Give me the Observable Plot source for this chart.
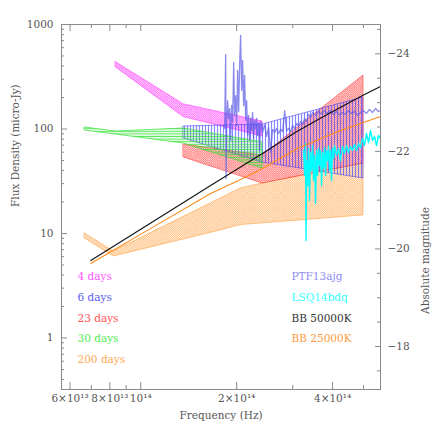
<!DOCTYPE html>
<html><head><meta charset="utf-8">
<script src="https://cdn.jsdelivr.net/npm/d3@7"></script>
<script src="https://cdn.jsdelivr.net/npm/@observablehq/plot@0.6"></script>
<style>html,body{margin:0;padding:0;background:#fff;}</style>
</head><body><div id="chart"></div>
<script>
// ---------- data (frequencies in units of 1e14 Hz, flux in micro-Jy) ----------
const days4Freq = [0.835, 1.364, 2.41];
const days4Hi   = [436, 172, 118];
const days4Lo   = [390, 130, 85];

const days6Freq = [1.364, 2.41, 5.0];
const days6Hi   = [105.7, 110.4, 200];
const days6Lo   = [81.1, 47.8, 33.6];

const days23Freq = [1.364, 2.41, 5.0];
const days23Hi   = [71.1, 55.8, 325];
const days23Lo   = [53.4, 30.1, 46.8];

const days30Freq = [0.668, 0.835, 1.364, 2.41];
const days30Hi   = [103.4, 94.6, 101.1, 74.3];
const days30Lo   = [96.7, 88.6, 72.6, 41.9];

const days200Freq = [0.668, 0.823, 1.781, 2.058, 2.41, 5.0];
const days200Hi   = [10.0, 6.73, 21.6, 27.0, 30.1, 46.8];
const days200Lo   = [8.96, 6.03, 10.7, 12.05, 12.5, 14.9];

const bb50Freq = [0.697, 1.075, 1.657, 2.41, 3.062, 3.747, 4.966, 5.655];
const bb50Flux = [5.51, 12.6, 28.8, 58.3, 93.2, 131.8, 209, 255];

const bb25Freq = [0.697, 1.075, 1.657, 2.058, 2.41, 3.129, 4.236, 5.655];
const bb25Flux = [5.16, 11.2, 24.1, 32.8, 41.9, 65.8, 96.7, 131.8];

const ptfFreq = [1.834,1.847,1.853,1.860,1.873,1.887,1.900,1.915,1.928,1.943,1.957,1.971,1.985,2.000,2.014,2.029,2.043,2.058,2.073,2.088,2.103,2.118,2.134,2.149,2.165,2.180,2.196,2.212,2.228,2.244,2.260,2.277,2.293,2.310,2.327,2.343,2.360,2.377,2.412,2.447,2.483,2.519,2.556,2.593,2.631,2.670,2.708,2.748,2.788,2.829,2.870,2.911,2.953,2.997,3.040,3.084,3.129,3.174,3.221,3.268,3.314,3.362,3.411,3.461,3.537,3.614,3.694,3.775,3.857,3.941,4.028,4.116,4.206,4.298,4.392,4.487,4.586,4.686,4.788,4.894,5.002,5.110,5.222,5.337,5.455,5.574,5.655];
const ptfFlux = [101,516,33.6,105.7,187,126,157,77.6,168,115.4,433,134.7,209,108,363,147,405,785,234,452,168,325,121,187,87,135,78,126,97,144,81,121,101,126,87,115,62,118,93,110,85,103,60,99,92.6,101,90.5,99,94.6,150,96.7,101,94.6,108,101,113,106,118,110,126,118,138,129,144,135,147,138,150,141,150,138,147,135,144,138,150,141,147,135,144,150,141,154,144,157,147,150];

const lsqFreq = [3.243,3.268,3.290,3.302,3.314,3.338,3.362,3.386,3.411,3.436,3.461,3.486,3.511,3.537,3.562,3.588,3.614,3.640,3.667,3.694,3.720,3.747,3.775,3.801,3.829,3.857,3.885,3.913,3.941,3.970,3.999,4.028,4.057,4.116,4.175,4.236,4.298,4.360,4.423,4.487,4.553,4.619,4.686,4.754,4.824,4.894,4.966,5.038,5.110,5.186,5.260,5.337,5.415,5.494,5.574,5.655];
const lsqFlux = [62.3,35.9,72.6,8.57,49.9,28.8,65.1,20.7,59.6,40.1,69.5,32.1,55.8,19.4,62.3,35.9,65.1,44.7,62.3,28.8,59.6,41.9,66.5,35.9,62.3,49.9,68.0,40.1,62.3,32.1,65.1,52.2,69.5,55.8,65.1,49.9,68.0,58.3,69.5,59.6,68.0,62.3,71.1,62.3,72.6,66.5,81.1,69.5,90.5,74.3,96.7,77.6,84.8,69.5,86.7,81.1];

// axis ticks
const xMajor = [6e13, 8e13, 1e14, 2e14, 4e14];
const xMajorLabels = ["6×10¹³", "8×10¹³", "10¹⁴", "2×10¹⁴", "4×10¹⁴"];
const xMinor = [7e13, 9e13, 3e14, 5e14];
const yMajor = [1, 10, 100, 1000];
const yMajorLabels = ["1", "10", "100", "1000"];
const yMinor = [0.4,0.5,0.6,0.7,0.8,0.9, 2,3,4,5,6,7,8,9, 20,30,40,50,60,70,80,90, 200,300,400,500,600,700,800,900];
const magMajor = [-24, -22, -20, -18];
const magMajorLabels = ["−24", "−22", "−20", "−18"];
const magMinor = [-24.5, -23.5, -23, -22.5, -21.5, -21, -20.5, -19.5, -19, -18.5, -17.5];
// magnitude axis calibration: magnitude -> flux at same height
const magRef = [-24, -18];
const magRefFlux = [524, 0.829];

// legend
const legendLeft = ["4 days", "6 days", "23 days", "30 days", "200 days"];
const legendLeftColors = ["#ff55ff", "#5a5aee", "#ff5555", "#55ee55", "#ffaa55"];
const legendRight = ["PTF13ajg", "LSQ14bdq", "BB 50000K", "BB 25000K"];
const legendRightColors = ["#8c8cf0", "#33ffff", "#333333", "#ff9a40"];

// ---------- build ----------
const U = 1e14;
function band(f, hi, lo) { return f.map((v, i) => ({f: v * U, hi: hi[i], lo: lo[i]})); }
function series(f, y) { if (f.length !== y.length) throw new Error("length mismatch"); return f.map((v, i) => ({f: v * U, y: y[i]})); }
const magToFlux = m => {
  const l0 = Math.log10(magRefFlux[0]), l1 = Math.log10(magRefFlux[1]);
  return Math.pow(10, l0 + (m - magRef[0]) * (l1 - l0) / (magRef[1] - magRef[0]));
};

const W = 436, H = 436, mL = 61, mR = 56, mT = 24, mB = 47;
const fw = W - mL - mR, fh = H - mT - mB;
const axisColor = "#8a8a8a", textColor = "#555";
const font = "DejaVu Serif";

const colors = {m: "#ff33ff", b: "#3c3cff", r: "#ff3a3a", g: "#2fe02f", o: "#ffa040"};

const marks = [
  Plot.areaY(band(days200Freq, days200Hi, days200Lo), {x: "f", y1: "lo", y2: "hi", fill: "url(#hatchO)", stroke: colors.o, strokeWidth: 0.6}),
  Plot.areaY(band(days23Freq, days23Hi, days23Lo), {x: "f", y1: "lo", y2: "hi", fill: "url(#hatchR)", stroke: colors.r, strokeWidth: 0.6}),
  Plot.areaY(band(days4Freq, days4Hi, days4Lo), {x: "f", y1: "lo", y2: "hi", fill: "url(#hatchM)", stroke: colors.m, strokeWidth: 0.6}),
  Plot.areaY(band(days6Freq, days6Hi, days6Lo), {x: "f", y1: "lo", y2: "hi", fill: "url(#hatchB)", stroke: colors.b, strokeWidth: 0.7, strokeOpacity: 0.8}),
  Plot.areaY(band(days30Freq, days30Hi, days30Lo), {x: "f", y1: "lo", y2: "hi", fill: "url(#hatchG)", stroke: colors.g, strokeWidth: 0.7}),
  Plot.line(series(ptfFreq, ptfFlux), {x: "f", y: "y", stroke: "#5a5ae6", strokeOpacity: 0.7, strokeWidth: 1.3, clip: true}),
  Plot.line(series(lsqFreq, lsqFlux), {x: "f", y: "y", stroke: "#00ffff", strokeWidth: 1.4, clip: true}),
  Plot.line(series(bb25Freq, bb25Flux), {x: "f", y: "y", stroke: "#ff8a1a", strokeWidth: 1.1}),
  Plot.line(series(bb50Freq, bb50Flux), {x: "f", y: "y", stroke: "#111", strokeWidth: 1.1}),
  Plot.frame({stroke: axisColor, strokeWidth: 1}),
  // x ticks bottom and top (inward)
  Plot.ruleX(xMajor, {x: d => d, insetTop: fh - 7, stroke: axisColor}),
  Plot.ruleX(xMajor, {x: d => d, insetBottom: fh - 7, stroke: axisColor}),
  Plot.ruleX(xMinor, {x: d => d, insetTop: fh - 4, stroke: axisColor}),
  Plot.ruleX(xMinor, {x: d => d, insetBottom: fh - 4, stroke: axisColor}),
  // y ticks left
  Plot.ruleY(yMajor, {y: d => d, insetRight: fw - 6, stroke: axisColor}),
  Plot.ruleY(yMinor, {y: d => d, insetRight: fw - 3, stroke: axisColor}),
  // magnitude ticks right
  Plot.ruleY(magMajor, {y: m => magToFlux(m), insetLeft: fw - 5, stroke: axisColor}),
  Plot.ruleY(magMinor, {y: m => magToFlux(m), insetLeft: fw - 3, stroke: axisColor}),
  // tick labels
  Plot.text(xMajor, {x: d => d, text: (d, i) => xMajorLabels[i], frameAnchor: "bottom", dy: 12, fill: textColor, fontSize: 10.5}),
  Plot.text(yMajor, {y: d => d, text: (d, i) => yMajorLabels[i], frameAnchor: "left", dx: -8, textAnchor: "end", fill: textColor, fontSize: 10.5}),
  Plot.text(magMajor, {y: m => magToFlux(m), text: (d, i) => magMajorLabels[i], frameAnchor: "right", dx: 7, textAnchor: "start", fill: textColor, fontSize: 10.5}),
  // axis titles
  Plot.text(["Frequency (Hz)"], {frameAnchor: "bottom", dy: 29, fill: textColor, fontSize: 10.5}),
  Plot.text(["Flux Density (micro-Jy)"], {frameAnchor: "left", dx: -46, rotate: -90, fill: textColor, fontSize: 10.5}),
  Plot.text(["Absolute magnitude"], {frameAnchor: "right", dx: 45, rotate: -90, fill: textColor, fontSize: 10.5}),
  // legend
  ...legendLeft.map((t, i) => Plot.text([t], {frameAnchor: "top-left", dx: 16, dy: 248 + 20.8 * i, textAnchor: "start", fill: legendLeftColors[i], fontSize: 10.5})),
  ...legendRight.map((t, i) => Plot.text([t], {frameAnchor: "top-left", dx: 230, dy: 248 + 20.8 * i, textAnchor: "start", fill: legendRightColors[i], fontSize: 10.5}))
];

const chart = Plot.plot({
  width: W, height: H,
  marginLeft: mL, marginRight: mR, marginTop: mT, marginBottom: mB,
  x: {type: "log", domain: [5.64e13, 5.655e14], axis: null},
  y: {type: "log", domain: [0.3215, 1000], axis: null},
  style: {fontFamily: font, fontSize: "10.5px", color: textColor, background: "#fff"},
  marks
});

const svg = chart.tagName.toLowerCase() === "svg" ? chart : chart.querySelector("svg");
const defs = d3.select(svg).insert("defs", ":first-child");
function cross(id, color, size, sw, bg) {
  const p = defs.append("pattern").attr("id", id).attr("patternUnits", "userSpaceOnUse").attr("width", size).attr("height", size);
  p.append("rect").attr("width", size).attr("height", size).attr("fill", color).attr("fill-opacity", bg);
  p.append("path").attr("d", `M0,0L${size},${size}M${size},0L0,${size}`).attr("stroke", color).attr("stroke-width", sw).attr("stroke-opacity", 0.8).attr("fill", "none");
}
function stripes(id, color, size, sw, vertical, opacity, bg) {
  const p = defs.append("pattern").attr("id", id).attr("patternUnits", "userSpaceOnUse").attr("width", size).attr("height", size);
  p.append("rect").attr("width", size).attr("height", size).attr("fill", color).attr("fill-opacity", bg);
  p.append("path").attr("d", vertical ? `M${size/2},0V${size}` : `M0,${size/2}H${size}`)
    .attr("stroke", color).attr("stroke-width", sw).attr("stroke-opacity", opacity).attr("fill", "none");
}
cross("hatchM", colors.m, 2.2, 0.45, 0.22);
cross("hatchR", colors.r, 2.2, 0.45, 0.2);
cross("hatchO", colors.o, 2.2, 0.4, 0.2);
stripes("hatchB", colors.b, 3, 1, true, 0.6, 0.05);
stripes("hatchG", colors.g, 2.6, 0.8, false, 0.8, 0.15);

document.getElementById("chart").appendChild(chart);
</script></body></html>
